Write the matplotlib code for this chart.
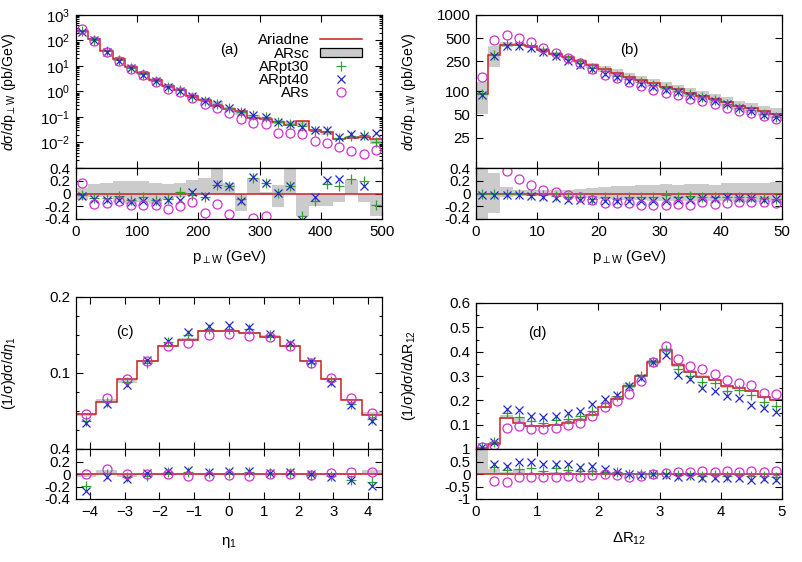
import numpy as np
import matplotlib
matplotlib.use('Agg')
import matplotlib.pyplot as plt
from matplotlib.lines import Line2D
from matplotlib.patches import Patch
from matplotlib.ticker import FixedLocator, MultipleLocator, NullLocator

plt.rcParams['font.family'] = ['Liberation Sans', 'DejaVu Sans']
plt.rcParams['mathtext.fontset'] = 'custom'
plt.rcParams['mathtext.rm'] = 'Liberation Sans'
plt.rcParams['mathtext.it'] = 'Liberation Sans:italic'
plt.rcParams['mathtext.bf'] = 'Liberation Sans:bold'
plt.rcParams['font.size'] = 10.8

RED = '#cc2020'
GREEN = '#30a030'
BLUE = '#2828c8'
MAGENTA = '#d030d0'
GRAY = '#cbcbcb'

# ---------------- (a) p_perp W, 0-500 GeV ----------------
pta_edges = np.arange(0, 501, 20)
pta_ariadne = [234, 110, 40, 18, 9.5, 5.2, 2.9, 1.7, 1.15, 0.65, 0.46, 0.28, 0.21,
               0.17, 0.095, 0.085, 0.065, 0.047, 0.071, 0.032, 0.025, 0.014, 0.0148,
               0.0162, 0.0132]
pta_band_hi = [0.08, 0.15, 0.16, 0.20, 0.19, 0.20, 0.17, 0.15, 0.17, 0.21, 0.24, 0.45, 0.17,
               0.0, 0.24, 0.02, 0.13, 0.45, 0.0, 0.0, 0.0, 0.0, 0.21, 0.0, 0.0]
pta_band_lo = [-0.10, -0.05, -0.06, -0.13, -0.16, -0.13, -0.16, -0.10, -0.05, 0.0, 0.0, 0.0, 0.0,
               -0.27, 0.0, -0.02, -0.21, 0.0, -0.35, -0.19, -0.19, -0.13, 0.0, -0.13, -0.35]
pta_pt30 = [-0.03, -0.07, -0.07, -0.04, -0.10, -0.05, -0.10, -0.08, 0.03, -0.03, -0.05, 0.13, 0.12,
            -0.09, 0.24, 0.16, 0.01, 0.11, -0.35, -0.12, 0.15, 0.12, 0.22, 0.20, -0.18]
pta_pt40 = [-0.04, -0.08, -0.10, -0.10, -0.13, -0.12, -0.13, -0.10, -0.10, 0.03, -0.04, 0.15, 0.11,
            -0.11, 0.26, 0.16, 0.01, 0.12, -0.42, -0.06, 0.21, 0.22, 0.45, 0.11, 0.78]
pta_s = [0.16, -0.16, -0.15, -0.12, -0.18, -0.18, -0.18, -0.24, -0.20, -0.13, -0.31, -0.17, -0.32,
         -0.49, -0.38, -0.35, -0.63, -0.52, -0.70, -0.65, -0.63, -0.52, -0.68, -0.79, -0.61]

# ---------------- (b) p_perp W, 0-50 GeV ----------------
ptb_edges = np.arange(0, 51, 2)
ptb_ariadne = [92, 300, 405, 405, 390, 350, 312, 280, 248, 220, 195, 175, 155, 143, 129, 116,
               108, 97, 88, 81, 72, 65, 60, 55, 51]
ptb_band_hi = [0.45, 0.32, 0.10, 0.06, 0.05, 0.05, 0.05, 0.06, 0.07, 0.08, 0.10, 0.11, 0.12,
               0.13, 0.14, 0.15, 0.14, 0.15, 0.15, 0.14, 0.16, 0.17, 0.17, 0.17, 0.18]
ptb_band_lo = [-0.45, -0.31, -0.05, -0.04, -0.04, -0.04, -0.04, -0.05, -0.06, -0.07, -0.08, -0.09,
               -0.10, -0.10, -0.11, -0.11, -0.12, -0.12, -0.12, -0.12, -0.12, -0.13, -0.13, -0.13, -0.13]
ptb_pt30 = [0.0, 0.0, 0.0, -0.01, -0.02, -0.03, -0.04, -0.06, -0.05, -0.08, -0.06, -0.08, -0.05,
            -0.06, -0.05, -0.03, -0.06, -0.04, -0.05, -0.05, -0.05, -0.05, -0.05, -0.07, -0.08]
ptb_pt40 = [-0.02, -0.02, -0.02, -0.03, -0.04, -0.05, -0.07, -0.10, -0.10, -0.10, -0.12, -0.12,
            -0.11, -0.12, -0.11, -0.11, -0.10, -0.10, -0.07, -0.08, -0.05, -0.07, -0.07, -0.10, -0.08]
ptb_s = [0.67, 0.57, 0.35, 0.22, 0.13, 0.06, 0.02, -0.02, -0.05, -0.10, -0.15, -0.15, -0.15,
         -0.18, -0.18, -0.18, -0.16, -0.18, -0.14, -0.16, -0.15, -0.14, -0.14, -0.14, -0.15]

# ---------------- (c) eta_1 ----------------
eta_edges = np.linspace(-4.4, 4.4, 16)
eta_ariadne = [0.046, 0.062, 0.092, 0.116, 0.135, 0.144, 0.155, 0.155, 0.153, 0.148, 0.135,
               0.116, 0.092, 0.065, 0.045]
eta_band_hi = [0.02, 0.06, 0.0, 0.01, 0.01, 0.01, 0.01, 0.01, 0.01, 0.01, 0.01, 0.01, 0.01, 0.01, 0.07]
eta_band_lo = [-0.05, 0.0, -0.05, -0.01, -0.01, -0.01, -0.01, -0.01, -0.01, -0.01, -0.01, -0.01,
               -0.01, -0.01, 0.0]
eta_pt30 = [-0.19, 0.0, -0.04, -0.03, 0.04, 0.04, 0.02, 0.02, 0.03, 0.01, 0.01, -0.02, -0.03, -0.09, -0.13]
eta_pt40 = [-0.27, -0.05, -0.08, 0.01, 0.05, 0.065, 0.04, 0.05, 0.05, 0.02, 0.03, 0.0, -0.05, -0.10, -0.19]
eta_s = [0.0, 0.08, 0.0, 0.0, 0.0, -0.03, -0.03, -0.02, -0.03, 0.0, 0.0, -0.02, 0.02, 0.04, 0.04]

# ---------------- (d) Delta R_12 ----------------
dr_edges = np.linspace(0, 5, 26)
dr_ariadne = [0.003, 0.022, 0.127, 0.108, 0.093, 0.093, 0.097, 0.107, 0.121, 0.141, 0.171, 0.204,
              0.257, 0.301, 0.357, 0.408, 0.344, 0.317, 0.297, 0.284, 0.257, 0.250, 0.237, 0.213, 0.200]
dr_band_hi = [1.0, 0.2, 0.1, 0.2, 0.05, 0.05, 0.08, 0.06, 0.06, 0.03, 0.03, 0.07, 0.05, 0.03, 0.02,
              0.02, 0.03, 0.03, 0.02, 0.02, 0.03, 0.02, 0.02, 0.02, 0.02]
dr_band_lo = [0.0, 0.0, -0.02, 0.04, -0.02, -0.02, -0.02, -0.02, -0.02, -0.02, -0.02, -0.02, -0.02,
              -0.02, -0.02, -0.02, -0.02, -0.02, -0.02, -0.02, -0.02, -0.02, -0.02, -0.02, -0.02]
dr_pt30 = [1.3, 0.28, 0.15, 0.20, 0.24, 0.13, 0.24, 0.17, 0.11, 0.11, 0.10, 0.07, 0.0, 0.0, 0.0, 0.0,
           -0.05, -0.05, -0.07, -0.05, -0.07, -0.03, -0.07, -0.09, -0.12]
dr_pt40 = [1.3, 0.40, 0.31, 0.48, 0.47, 0.40, 0.40, 0.40, 0.28, 0.31, 0.20, 0.08, 0.0, -0.03, 0.0,
           -0.05, -0.12, -0.09, -0.16, -0.16, -0.16, -0.16, -0.23, -0.20, -0.23]
dr_s = [1.3, -0.29, -0.33, -0.13, -0.13, -0.12, -0.12, -0.09, -0.12, -0.03, 0.0, -0.03, -0.12, -0.07,
        0.0, 0.04, 0.07, 0.07, 0.11, 0.08, 0.11, 0.08, 0.11, 0.08, 0.13]


fig = plt.figure(figsize=(8.02, 5.62), dpi=100)


def px_axes(x0, y0, x1, y1):
    return fig.add_axes([x0 / 802, 1 - y1 / 562, (x1 - x0) / 802, (y1 - y0) / 562])


def style(ax):
    ax.tick_params(which='both', direction='in', top=True, right=True, width=0.8)
    ax.tick_params(which='major', length=5, pad=4)
    ax.tick_params(which='minor', length=2.5)
    for s in ax.spines.values():
        s.set_linewidth(0.9)


def draw(ax, rax, edges, ariadne, lo, hi, r30, r40, rs):
    edges = np.asarray(edges)
    ariadne = np.asarray(ariadne)
    lo, hi = np.asarray(lo), np.asarray(hi)
    r30, r40, rs = np.asarray(r30), np.asarray(r40), np.asarray(rs)
    c = 0.5 * (edges[1:] + edges[:-1])

    ax.stairs(ariadne * (1 + hi), edges, baseline=ariadne * (1 + lo), fill=True, color=GRAY, lw=0)
    ax.stairs(ariadne, edges, baseline=None, color=RED, lw=1.1)
    ax.plot(c, ariadne * (1 + r30), ls='none', marker='+', color=GREEN, ms=6.5, mew=0.9)
    ax.plot(c, ariadne * (1 + r40), ls='none', marker='x', color=BLUE, ms=5.5, mew=0.9)
    ax.plot(c, ariadne * (1 + rs), ls='none', marker='o', mfc='none', mec=MAGENTA, ms=6.5, mew=0.9)

    rax.stairs(hi, edges, baseline=lo, fill=True, color=GRAY, lw=0)
    rax.axhline(0, color=RED, lw=1.1)
    rax.plot(c, r30, ls='none', marker='+', color=GREEN, ms=6.5, mew=0.9)
    rax.plot(c, r40, ls='none', marker='x', color=BLUE, ms=5.5, mew=0.9)
    rax.plot(c, rs, ls='none', marker='o', mfc='none', mec=MAGENTA, ms=6.5, mew=0.9)

    ax.set_xlim(edges[0], edges[-1])
    rax.set_xlim(edges[0], edges[-1])
    ax.tick_params(labelbottom=False)
    style(ax)
    style(rax)


axa = px_axes(76, 15, 382, 168)
raa = px_axes(76, 168, 382, 219)
axb = px_axes(476, 15, 782, 168)
rab = px_axes(476, 168, 782, 219)
axc = px_axes(76, 297, 382, 449)
rac = px_axes(76, 449, 382, 499)
axd = px_axes(476, 303, 782, 449)
rad = px_axes(476, 449, 782, 499)

draw(axa, raa, pta_edges, pta_ariadne, pta_band_lo, pta_band_hi, pta_pt30, pta_pt40, pta_s)
draw(axb, rab, ptb_edges, ptb_ariadne, ptb_band_lo, ptb_band_hi, ptb_pt30, ptb_pt40, ptb_s)
draw(axc, rac, eta_edges, eta_ariadne, eta_band_lo, eta_band_hi, eta_pt30, eta_pt40, eta_s)
draw(axd, rad, dr_edges, dr_ariadne, dr_band_lo, dr_band_hi, dr_pt30, dr_pt40, dr_s)

# ---- (a) ----
axa.set_yscale('log')
axa.set_ylim(1e-3, 1e3)
axa.yaxis.set_major_locator(FixedLocator([1e-3, 1e-2, 1e-1, 1, 10, 100, 1000]))
axa.set_yticklabels(['', r'$\mathdefault{10^{-2}}$', r'$\mathdefault{10^{-1}}$', r'$\mathdefault{10^{0}}$',
                     r'$\mathdefault{10^{1}}$', r'$\mathdefault{10^{2}}$', r'$\mathdefault{10^{3}}$'])
axa.set_xticks([0, 100, 200, 300, 400, 500])
raa.set_xticks([0, 100, 200, 300, 400, 500])
axa.set_ylabel(r'$d$σ/$d$p$_{\perp\mathrm{W}}$ (pb/GeV)', fontsize=10.2)
raa.set_xlabel(r'p$_{\perp\mathrm{W}}$ (GeV)')
axa.text(0.5, 0.77, '(a)', transform=axa.transAxes, ha='center', va='center')

# ---- (b) ----
axb.set_yscale('log')
axb.set_ylim(10, 1000)
axb.yaxis.set_major_locator(FixedLocator([10, 25, 50, 100, 250, 500, 1000]))
axb.yaxis.set_minor_locator(NullLocator())
axb.set_yticklabels(['', '25', '50', '100', '250', '500', '1000'])
axb.set_xticks([0, 10, 20, 30, 40, 50])
rab.set_xticks([0, 10, 20, 30, 40, 50])
axb.set_ylabel(r'$d$σ/$d$p$_{\perp\mathrm{W}}$ (pb/GeV)', fontsize=10.2)
rab.set_xlabel(r'p$_{\perp\mathrm{W}}$ (GeV)')
axb.text(0.5, 0.77, '(b)', transform=axb.transAxes, ha='center', va='center')

for r in (raa, rab, rac):
    r.set_ylim(-0.4, 0.4)
    r.set_yticks([-0.4, -0.2, 0, 0.2, 0.4])
    r.set_yticklabels(['-0.4', '-0.2', '0', '0.2', '0.4'])

# ---- (c) ----
axc.set_ylim(0, 0.2)
axc.set_yticks([0, 0.1, 0.2])
axc.set_yticklabels(['', '0.1', '0.2'])
axc.yaxis.set_minor_locator(MultipleLocator(0.025))
axc.set_xticks(np.arange(-4, 5))
rac.set_xticks(np.arange(-4, 5))
axc.set_ylabel(r'(1/σ)$d$σ/$d\eta_\mathrm{1}$', fontsize=10.2)
rac.set_xlabel(r'$\mathrm{\eta}_\mathrm{1}$')
axc.text(0.16, 0.77, '(c)', transform=axc.transAxes, ha='center', va='center')

# ---- (d) ----
axd.set_ylim(0, 0.6)
axd.set_yticks([0, 0.1, 0.2, 0.3, 0.4, 0.5, 0.6])
axd.set_yticklabels(['', '0.1', '0.2', '0.3', '0.4', '0.5', '0.6'])
axd.yaxis.set_minor_locator(MultipleLocator(0.05))
axd.set_xticks(np.arange(0, 6))
rad.set_xticks(np.arange(0, 6))
rad.set_ylim(-1, 1)
rad.set_yticks([-1, -0.5, 0, 0.5, 1])
rad.set_yticklabels(['-1', '-0.5', '0', '0.5', '1'])
axd.set_ylabel(r'(1/σ)$d$σ/$d$ΔR$_\mathrm{12}$', fontsize=10.2)
rad.set_xlabel(r'ΔR$_\mathrm{12}$')
axd.text(0.2, 0.795, '(d)', transform=axd.transAxes, ha='center', va='center')

for ax in (axa, axb, axc, axd):
    ax.yaxis.set_label_coords(-0.19, 0.5)
raa.xaxis.labelpad = 7
rab.xaxis.labelpad = 7
rac.xaxis.labelpad = 12
rad.xaxis.labelpad = 9

handles = [
    Line2D([], [], color=RED, lw=1.1),
    Patch(facecolor=GRAY, edgecolor='black', lw=0.9),
    Line2D([], [], ls='none', marker='+', color=GREEN, ms=6.5, mew=0.9),
    Line2D([], [], ls='none', marker='x', color=BLUE, ms=5.5, mew=0.9),
    Line2D([], [], ls='none', marker='o', mfc='none', mec=MAGENTA, ms=6.5, mew=0.9),
]
axa.legend(handles, ['Ariadne', 'ARsc', 'ARpt30', 'ARpt40', 'ARs'], loc='upper right',
           bbox_to_anchor=(0.935, 0.88), frameon=False, markerfirst=False,
           handlelength=2.8, handletextpad=0.7, labelspacing=-0.05, borderpad=0,
           borderaxespad=0, handleheight=0.55)

fig.savefig('out.png', dpi=100)
